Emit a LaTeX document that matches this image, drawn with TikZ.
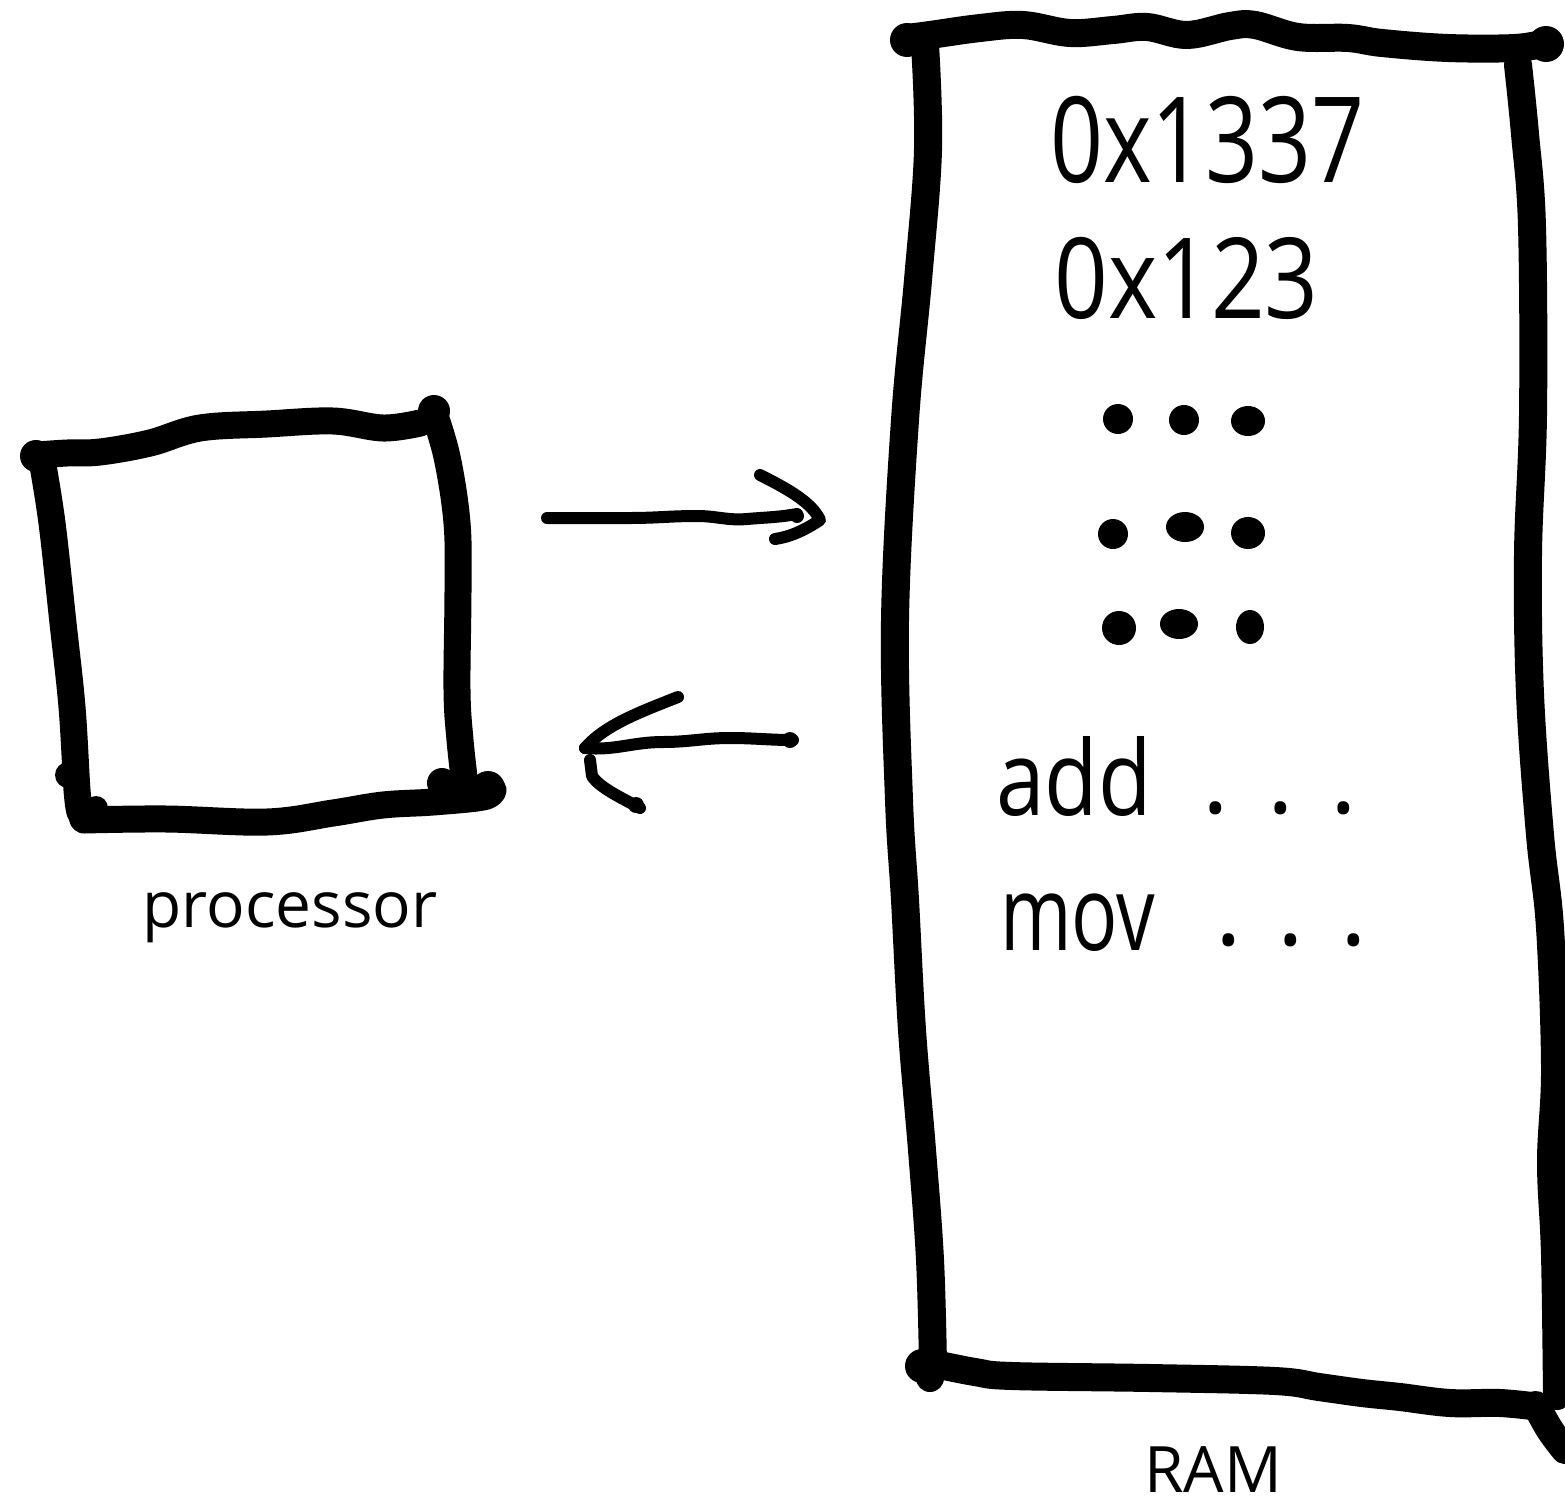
\documentclass[tikz,border=0pt]{standalone}
\usepackage{fontspec}
\setmainfont{Open Sans}
\tikzset{
  boxline/.style={line width=27pt, line cap=round, line join=round},
  ramline/.style={line width=28pt, line cap=round, line join=round},
  penline/.style={line width=12pt, line cap=round, line join=round},
  caption/.style={inner sep=0pt, anchor=base, font=\fontsize{64}{72}\selectfont},
  hand/.style={inner sep=0pt, anchor=base west},
}
\begin{document}
\begin{tikzpicture}[x=1pt,y=-1pt]
\useasboundingbox (0,0) rectangle (1565,1507);

% ---------- processor box ----------
\draw[boxline] plot[smooth, tension=0.6] coordinates
  {(37,455) (67,453) (100,452) (150,443) (200,428) (267,424) (333,421) (383,428) (420,423)};
\draw[boxline] plot[smooth, tension=0.6] coordinates
  {(433,410) (447,457) (457,523) (458,590) (457,690) (460,740) (465,785)};
\draw[boxline] plot[smooth, tension=0.6] coordinates
  {(84,820) (167,819) (267,822) (333,813) (383,805) (433,802) (483,797) (493,790)};
\draw[boxline] plot[smooth, tension=0.6] coordinates
  {(42,460) (52,523) (63,623) (72,707) (77,790) (80,812)};
\fill (36,456) circle[radius=16];
\fill (434,411) circle[radius=16];
\fill (442,783) circle[radius=15];
\fill (488,788) circle[radius=17];
\fill (84,818) circle[radius=15];
\fill (96,808) circle[radius=12];
\fill (68,775) circle[radius=13];
\node[caption] (proc) at (290,927) {processor};

% ---------- arrows ----------
\coordinate (outA) at (547,518);
\coordinate (outB) at (797,514);
\draw[penline] (outA) to[out=0,in=180] (630,518) to[out=0,in=180] (697,516)
  to[out=0,in=185] (747,519) to[out=5,in=190] (outB);
\fill (797,516) circle[radius=7];
\draw[penline] (760,475) .. controls (790,490) and (812,503) .. (820,520)
  .. controls (805,530) and (790,537) .. (775,539);

\coordinate (inA) at (793,740);
\coordinate (inB) at (585,748);
\draw[penline] (inA) to[out=180,in=0] (730,738) to[out=180,in=0] (663,742)
  to[out=180,in=-5] (inB);
\fill (790,740) circle[radius=8];
\draw[penline] (678,697) .. controls (640,712) and (605,725) .. (inB);
\draw[penline] (590,760) -- (592,776) .. controls (600,788) and (620,797) .. (640,808);
\fill (636,805) circle[radius=8];

% ---------- RAM box ----------
\draw[ramline] plot[smooth, tension=0.6] coordinates
  {(907,38) (930,35) (980,28) (1023,25) (1070,33) (1113,30) (1147,27) (1187,35)
   (1230,26) (1255,25) (1298,37) (1348,38) (1382,43) (1448,48) (1515,48) (1545,43)};
\draw[ramline] plot[smooth, tension=0.6] coordinates
  {(925,45) (928,150) (918,280) (905,420) (895,620) (899,800) (905,900) (912,1030)
   (922,1150) (930,1260) (933,1365)};
\draw[ramline] plot[smooth, tension=0.6] coordinates
  {(1518,65) (1525,134) (1532,227) (1533,414) (1528,554) (1530,694) (1540,835)
   (1550,928) (1555,1068) (1551,1162) (1555,1255) (1557,1396)};
\draw[ramline] plot[smooth, tension=0.6] coordinates
  {(930,1363) (975,1372) (1012,1376) (1150,1378) (1275,1381) (1319,1387)
   (1362,1393) (1400,1397) (1450,1403) (1500,1403) (1540,1407)};
\draw[ramline] plot[smooth, tension=0.6] coordinates
  {(1536,1405) (1550,1430) (1565,1450)};
\fill (907,40) circle[radius=17];
\fill (1546,44) circle[radius=18];
\fill (922,1366) circle[radius=17];
\fill (930,1378) circle[radius=14];

% memory contents
\node[hand, font=\fontsize{119}{130}\selectfont] (hexA) at (1050,182) {\scalebox{0.78}[1]{0x1337}};
\node[hand, font=\fontsize{112}{124}\selectfont] (hexB) at (1054,318) {\scalebox{0.84}[1]{0x123}};

\fill (1118,419) circle[radius=15];
\fill (1184,420) circle[radius=15];
\fill (1248,421) ellipse[x radius=17, y radius=15];
\fill (1113,534) circle[radius=15];
\fill (1185,527) ellipse[x radius=19, y radius=15];
\fill (1248,533) ellipse[x radius=17, y radius=16];
\fill (1119,628) circle[radius=17];
\fill (1179,624) ellipse[x radius=19, y radius=15];
\fill (1250,627) ellipse[x radius=14, y radius=17];

\node[hand, font=\fontsize{104}{116}\selectfont] (addop) at (996,815) {\scalebox{0.84}[1]{add}};
\node[hand, font=\fontsize{100}{110}\selectfont] (adddots) at (1202,813) {.\hspace{39pt}.\hspace{36pt}.};
\node[hand, font=\fontsize{104}{116}\selectfont] (movop) at (1000,950) {\scalebox{0.74}[1]{mov}};
\node[hand, font=\fontsize{100}{110}\selectfont] (movdots) at (1215,945) {.\hspace{36pt}.\hspace{36pt}.};

\node[caption] (ram) at (1213,1492) {RAM};
\end{tikzpicture}
\end{document}
